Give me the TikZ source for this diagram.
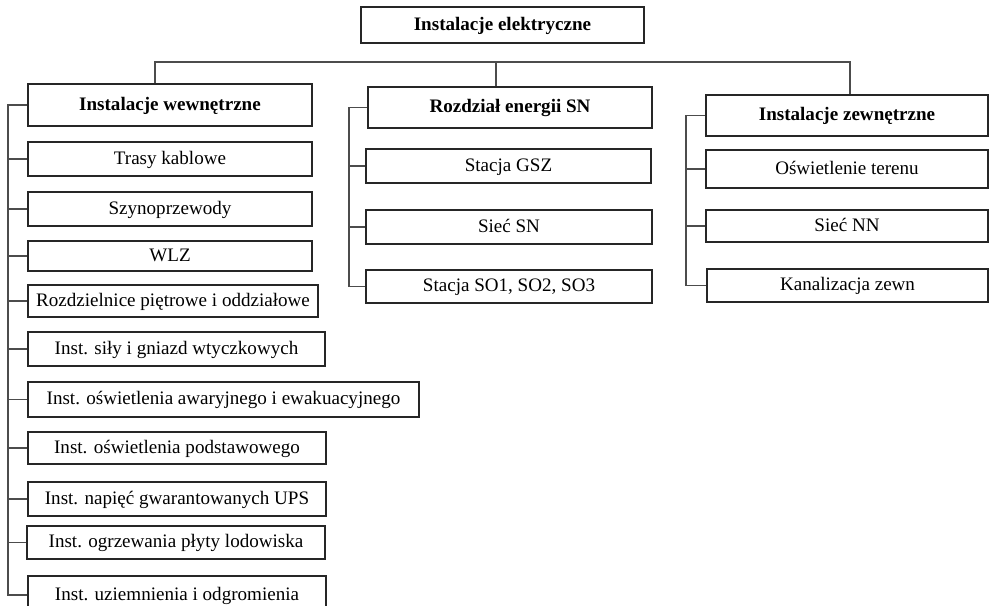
\documentclass[tikz,border=0pt]{standalone}
\usepackage{fontspec}
\setmainfont{Liberation Serif}
\begin{document}
\begin{tikzpicture}[x=0.75pt,y=-0.75pt,
  box/.style={draw=black!85, line width=1.1pt, inner sep=0pt, text height=0.78em, text depth=0pt,
    font=\fontsize{14.3pt}{16pt}\selectfont},
  hbox/.style={box, font=\fontsize{14.3pt}{16pt}\selectfont\bfseries},
  conn/.style={draw=black!70, line width=0.9pt}]
\useasboundingbox (0,0) rectangle (989,606);
\newcommand\bx[7]{\node[#1, minimum width={(#5-#3)*0.75pt}, minimum height={(#6-#4)*0.75pt}] (#2) at ({(#3+#5)/2},{(#4+#6)/2}) {#7};}
% top
\bx{hbox}{top}{361}{7}{644}{43}{Instalacje elektryczne}
% left column
\bx{hbox}{L0}{28}{84}{312}{126}{Instalacje wewnętrzne}
\bx{box}{L1}{28}{142}{312}{176}{Trasy kablowe}
\bx{box}{L2}{28}{192}{312}{226}{Szynoprzewody}
\bx{box}{L3}{28}{241}{312}{271}{WLZ}
\bx{box}{L4}{28}{285}{318}{317}{Rozdzielnice piętrowe i oddziałowe}
\bx{box}{L5}{28}{332}{325}{366}{Inst. siły i gniazd wtyczkowych}
\bx{box}{L6}{28}{382}{419}{417}{Inst. oświetlenia awaryjnego i ewakuacyjnego}
\bx{box}{L7}{28}{432}{326}{464}{Inst. oświetlenia podstawowego}
\bx{box}{L8}{28}{482}{326}{516}{Inst. napięć gwarantowanych UPS}
\bx{box}{L9}{27}{526}{325}{559}{Inst. ogrzewania płyty lodowiska}
\bx{box}{L10}{28}{576}{326}{614}{Inst. uziemnienia i odgromienia}
% middle column
\bx{hbox}{M0}{368}{87}{652}{128}{Rozdział energii SN}
\bx{box}{M1}{366}{149}{651}{183}{Stacja GSZ}
\bx{box}{M2}{366}{210}{652}{244}{Sieć SN}
\bx{box}{M3}{366}{270}{652}{303}{Stacja SO1, SO2, SO3}
% right column
\bx{hbox}{R0}{706}{95}{988}{136}{Instalacje zewnętrzne}
\bx{box}{R1}{706}{150}{988}{188}{Oświetlenie terenu}
\bx{box}{R2}{706}{210}{988}{242}{Sieć NN}
\bx{box}{R3}{707}{269}{988}{302}{Kanalizacja zewn}
% bus
\coordinate (dl) at (155,62);
\coordinate (dm) at (496,62);
\coordinate (dr) at (850,62);
\draw[conn] (dl |- L0.north) -- (dl) -- (dr) -- (dr |- R0.north);
\draw[conn] (dm) -- (dm |- M0.north);
% left trunk
\coordinate (lt) at (8,0);
\draw[conn] (L0.west) -- (L0.west -| lt) -- (L10.west -| lt) -- (L10.west);
\foreach \n in {L1,L2,L3,L4,L5,L6,L7,L8,L9}
  \draw[conn] (\n.west) -- (\n.west -| lt);
% middle trunk
\coordinate (mt) at (349,0);
\draw[conn] (M0.west) -- (M0.west -| mt) -- (M3.west -| mt) -- (M3.west);
\foreach \n in {M1,M2}
  \draw[conn] (\n.west) -- (\n.west -| mt);
% right trunk
\coordinate (rt) at (686,0);
\draw[conn] (R0.west) -- (R0.west -| rt) -- (R3.west -| rt) -- (R3.west);
\foreach \n in {R1,R2}
  \draw[conn] (\n.west) -- (\n.west -| rt);
\end{tikzpicture}
\end{document}
